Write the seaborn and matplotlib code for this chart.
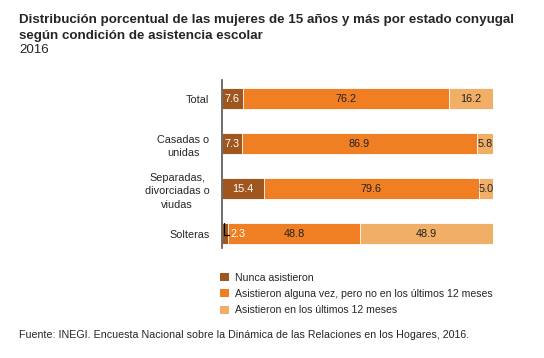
import numpy as np
import pandas as pd
import matplotlib
matplotlib.use("Agg")
import matplotlib.pyplot as plt
import seaborn as sns
from matplotlib.patches import Patch

categorias = ["Total", "Casadas o\nunidas", "Separadas,\ndivorciadas o\nviudas", "Solteras"]
nunca = [7.6, 7.3, 15.4, 2.3]
alguna_vez = [76.2, 86.9, 79.6, 48.8]
ultimos_12 = [16.2, 5.8, 5.0, 48.9]
series = ["Nunca asistieron",
          "Asistieron alguna vez, pero no en los últimos 12 meses",
          "Asistieron en los últimos 12 meses"]
colores = ["#A0561F", "#F07F24", "#F0AE66"]

sns.set_theme(style="white")
plt.rcParams["font.family"] = ["Liberation Sans", "DejaVu Sans"]

df = pd.DataFrame({"cat": categorias, "a": nunca, "b": alguna_vez, "c": ultimos_12})
df["ab"] = df["a"] + df["b"]
df["abc"] = df["ab"] + df["c"]

fs = 7.8

fig = plt.figure(figsize=(5.44, 3.58), dpi=100)
ax = fig.add_axes([0.408, 0.307, 0.498, 0.47])

# stacked by overlapping cumulative bars
for col, color in zip(["abc", "ab", "a"], colores[::-1]):
    sns.barplot(data=df, x=col, y="cat", color=color, width=0.47, ax=ax,
                edgecolor="white", linewidth=0.6, saturation=1, orient="h")

ax.set_xlim(0, 100)
ax.set_ylim(3.32, -0.42)
ax.set_xlabel("")
ax.set_ylabel("")
ax.set_xticks([])
ax.tick_params(axis="y", length=0, labelsize=fs, pad=9)
for lab in ax.get_yticklabels():
    lab.set_horizontalalignment("right")
    lab.set_multialignment("center")
    lab.set_linespacing(1.4)
for s in ["top", "right", "bottom"]:
    ax.spines[s].set_visible(False)
ax.spines["left"].set_color("#555555")
ax.spines["left"].set_linewidth(1.2)

for i in range(len(categorias)):
    a, b, c = nunca[i], alguna_vez[i], ultimos_12[i]
    if a < 4:
        ax.plot([0.9, 0.9, 2.6], [2.77, 3.03, 3.03], color="black", lw=0.9)
        ax.text(6.0, i, f"{a:.1f}", color="white", ha="center", va="center", fontsize=fs)
    else:
        ax.text(a / 2, i, f"{a:.1f}", color="white", ha="center", va="center", fontsize=fs)
    ax.text(a + b / 2, i, f"{b:.1f}", color="#222222", ha="center", va="center", fontsize=fs)
    ax.text(a + b + c / 2, i, f"{c:.1f}", color="#222222", ha="center", va="center", fontsize=fs)

handles = [Patch(facecolor=col, edgecolor="none", label=s) for s, col in zip(series, colores)]
fig.legend(handles=handles, loc="upper left", bbox_to_anchor=(0.397, 0.25), frameon=False,
           fontsize=7.6, handlelength=0.8, handleheight=0.8, handletextpad=0.6,
           labelspacing=0.6, borderaxespad=0)

fig.text(0.035, 0.962, "Distribución porcentual de las mujeres de 15 años y más por estado conyugal\n"
         "según condición de asistencia escolar", fontsize=9.6, fontweight="bold",
         va="top", ha="left", linespacing=1.45)
fig.text(0.035, 0.876, "2016", fontsize=9.6, va="top", ha="left")
fig.text(0.035, 0.064, "Fuente: INEGI. Encuesta Nacional sobre la Dinámica de las Relaciones en los Hogares, 2016.",
         fontsize=7.7, va="center", ha="left")

fig.savefig("out.png", dpi=100)
